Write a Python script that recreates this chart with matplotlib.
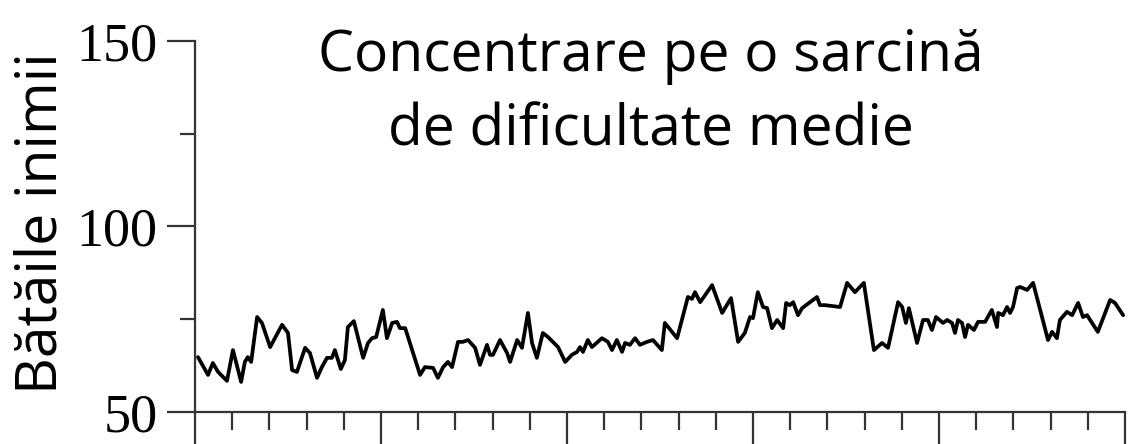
import matplotlib
matplotlib.use('Agg')
import matplotlib.pyplot as plt
from matplotlib.ticker import MultipleLocator, NullFormatter

# timp (unități de diviziune pe axa x) și bătăile inimii
timp = [0.08, 0.35, 0.48, 0.62, 0.86, 1.02, 1.24, 1.34, 1.42, 1.51, 1.67, 1.80,
        2.02, 2.34, 2.50, 2.61, 2.74, 2.96, 3.09, 3.28, 3.41, 3.55, 3.68, 3.76,
        3.92, 4.03, 4.11, 4.27, 4.52, 4.65, 4.76, 4.87, 5.05, 5.16, 5.30, 5.43,
        5.51, 5.65, 6.05, 6.18, 6.40, 6.53, 6.67, 6.80, 6.91, 7.07, 7.20, 7.34,
        7.53, 7.66, 7.85, 7.93, 8.01, 8.20, 8.39, 8.47, 8.66, 8.79, 8.95, 9.06,
        9.19, 9.35, 9.49, 9.76, 9.95, 10.13, 10.27, 10.35, 10.43, 10.56, 10.67,
        10.94, 11.10, 11.21, 11.34, 11.48, 11.56, 11.69, 11.83, 11.96, 12.15,
        12.31, 12.55, 12.63, 12.96, 13.25, 13.36, 13.44, 13.58, 13.90, 14.17,
        14.41, 14.60, 14.78, 14.92, 15.00, 15.13, 15.27, 15.38, 15.51, 15.65,
        15.81, 15.89, 15.99, 16.08, 16.21, 16.32, 16.61, 16.72, 16.80, 16.94,
        17.34, 17.53, 17.74, 17.98, 18.25, 18.47, 18.63, 18.90, 19.01, 19.11,
        19.19, 19.41, 19.57, 19.70, 19.81, 19.92, 20.11, 20.22, 20.35, 20.43,
        20.51, 20.62, 20.70, 20.78, 20.94, 21.05, 21.24, 21.42, 21.56, 21.59,
        21.72, 21.83, 21.91, 21.99, 22.10, 22.18, 22.37, 22.53, 22.93, 23.04,
        23.17, 23.25, 23.44, 23.58, 23.74, 23.87, 23.98, 24.27, 24.60, 24.73,
        24.95]
puls = [64.8, 60.0, 63.2, 60.8, 58.4, 66.7, 58.1, 63.5, 64.8, 63.5, 75.6, 74.0,
        67.5, 73.5, 71.3, 61.3, 60.8, 67.3, 65.9, 59.2, 62.1, 64.6, 64.6, 66.7,
        61.6, 64.0, 72.9, 74.5, 64.6, 68.6, 69.9, 70.2, 77.5, 69.9, 74.0, 74.3,
        72.6, 72.6, 60.0, 62.1, 61.9, 59.2, 62.1, 63.5, 62.1, 68.9, 68.9, 69.4,
        67.3, 62.7, 68.1, 65.4, 65.4, 69.4, 65.9, 63.5, 69.4, 67.3, 76.7, 68.6,
        64.6, 71.3, 70.2, 67.5, 63.5, 65.4, 66.2, 67.5, 66.2, 69.4, 67.5,
        69.9, 68.9, 66.7, 69.4, 66.2, 68.6, 68.1, 69.9, 68.1, 68.9,
        69.4, 66.7, 74.0, 69.9, 81.0, 80.5, 82.3, 79.6, 84.2, 76.7,
        80.7, 68.9, 71.3, 75.6, 75.3, 82.3, 78.3, 78.0, 72.6, 74.8,
        72.6, 79.4, 78.8, 79.6, 76.1, 78.0, 80.2, 81.0, 78.8, 78.8,
        78.3, 84.8, 82.3, 84.8, 66.7, 68.6, 67.3, 79.6, 78.3, 74.0,
        78.0, 68.6, 74.8, 74.8, 72.1, 75.6, 74.0, 74.8, 74.0, 71.3,
        74.8, 74.0, 70.2, 73.5, 72.1, 74.3, 74.3, 77.5, 72.9, 76.7,
        76.1, 78.3, 76.7, 78.3, 83.4, 83.7, 82.9, 84.8, 69.4, 71.6,
        69.9, 74.8, 77.0, 76.1, 79.4, 75.6, 76.1, 71.6, 80.2, 79.4,
        76.1]

y_ticks = [50, 100, 150]
titlu = 'Concentrare pe o sarcină\nde dificultate medie'
eticheta_y = 'Bătăile inimii'

fig = plt.figure(figsize=(11.28, 4.44), dpi=100)
ax = fig.add_axes([195/1128, 32/444, 930/1128, 371/444])

ax.plot(timp, puls, color='black', lw=2.7, solid_joinstyle='round',
        solid_capstyle='round', clip_on=False)

ax.set_xlim(0, 25)
ax.set_ylim(50, 150)
for s in ['top', 'right']:
    ax.spines[s].set_visible(False)
for s in ['left', 'bottom']:
    ax.spines[s].set_color('#333333')
    ax.spines[s].set_linewidth(1.6)

ax.set_yticks(y_ticks)
ax.yaxis.set_minor_locator(MultipleLocator(25))
ax.xaxis.set_major_locator(MultipleLocator(5))
ax.xaxis.set_minor_locator(MultipleLocator(1))
ax.xaxis.set_major_formatter(NullFormatter())
ax.tick_params(axis='y', which='major', length=20, width=1.6, color='#333333',
               pad=7, labelsize=39)
ax.tick_params(axis='y', which='minor', length=11, width=1.6, color='#333333')
ax.tick_params(axis='x', which='major', length=32, width=1.6, color='#333333')
ax.tick_params(axis='x', which='minor', length=13, width=1.6, color='#333333')
for lab in ax.get_yticklabels():
    lab.set_family('Liberation Serif')

# eticheta axei y, poziționată manual după referință
fig.text(57/1128, 0.4977, eticheta_y, rotation=90, rotation_mode='anchor',
         ha='center', va='baseline', family='Open Sans', fontsize=41)
ax.text(0.49, 1.035, titlu, transform=ax.transAxes, ha='center', va='top',
        family='Open Sans', fontsize=41, linespacing=1.4)

fig.savefig('out.png', dpi=100)
